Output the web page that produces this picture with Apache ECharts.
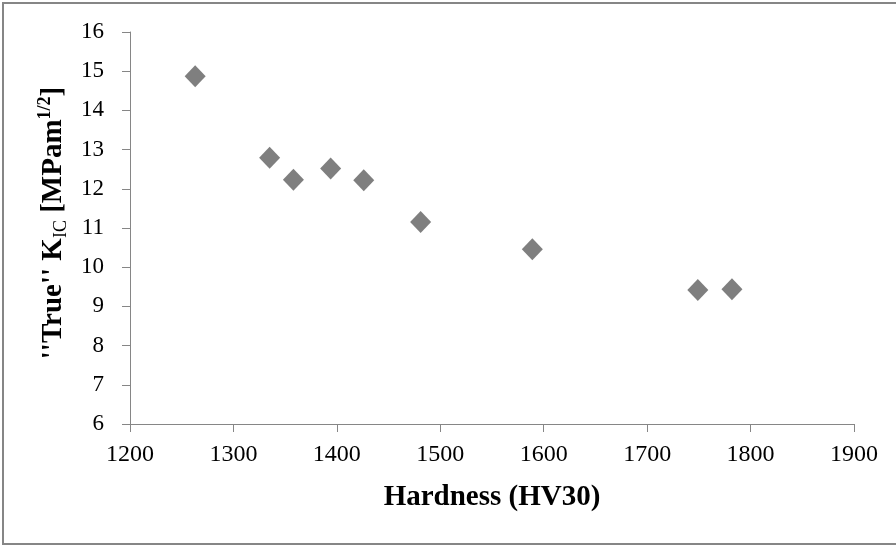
<!DOCTYPE html>
<html>
<head>
<meta charset="utf-8">
<script src="https://cdn.jsdelivr.net/npm/echarts@6/dist/echarts.min.js"></script>
<style>
  html, body { margin: 0; padding: 0; background: #fff; }
  #chart { width: 896px; height: 546px; }
</style>
</head>
<body>
<div id="chart"></div>
<script>
// hardness (HV30) vs "true" fracture toughness
const hardness = [1263, 1335, 1358, 1394, 1426, 1481, 1589, 1749, 1782]
const toughness = [14.87, 12.79, 12.23, 12.52, 12.22, 11.15, 10.46, 9.42, 9.44]

const chart = echarts.init(document.getElementById('chart'))

const serif = '"Liberation Serif", "Times New Roman", serif'
const axisGray = '#868686'

chart.setOption({
  animation: false,
  grid: { left: 130, right: 42, top: 32, bottom: 122 },
  graphic: [{
    type: 'rect',
    shape: { x: 3, y: 3, width: 910, height: 541 },
    style: { fill: 'none', stroke: axisGray, lineWidth: 2 },
    silent: true
  }],
  xAxis: {
    type: 'value',
    min: 1200,
    max: 1900,
    interval: 100,
    splitLine: { show: false },
    axisLine: { lineStyle: { color: axisGray, width: 1 } },
    axisTick: { length: 8, lineStyle: { color: axisGray } },
    axisLabel: { color: '#000', fontFamily: serif, fontSize: 24, margin: 19, formatter: v => String(v) },
    name: 'Hardness (HV30)',
    nameLocation: 'middle',
    nameGap: 57,
    nameTextStyle: { color: '#000', fontFamily: serif, fontSize: 29, fontWeight: 'bold', lineHeight: 33 }
  },
  yAxis: {
    type: 'value',
    min: 6,
    max: 16,
    interval: 1,
    splitLine: { show: false },
    axisLine: { show: true, lineStyle: { color: axisGray, width: 1 } },
    axisTick: { show: true, length: 8, lineStyle: { color: axisGray } },
    axisLabel: { color: '#000', fontFamily: serif, fontSize: 23, margin: 26 },
    name: "{b|''True'' K}{sub|IC}{b| [MPam}{sup|1/2}{b|]}",
    nameLocation: 'middle',
    nameRotate: 90,
    nameGap: 57,
    nameTextStyle: {
      color: '#000',
      padding: [0, 0, 0, 10],
      rich: {
        b: { fontFamily: serif, fontSize: 29, fontWeight: 'bold', lineHeight: 34, verticalAlign: 'middle' },
        sub: { fontFamily: serif, fontSize: 18, lineHeight: 18, verticalAlign: 'bottom' },
        sup: { fontFamily: serif, fontSize: 18, fontWeight: 'bold', lineHeight: 18, verticalAlign: 'top' }
      }
    }
  },
  series: [{
    type: 'scatter',
    symbol: 'diamond',
    symbolSize: [21, 22],
    itemStyle: { color: '#5f5f5f' },
    data: hardness.map((h, i) => [h, toughness[i]])
  }]
})
</script>
</body>
</html>
